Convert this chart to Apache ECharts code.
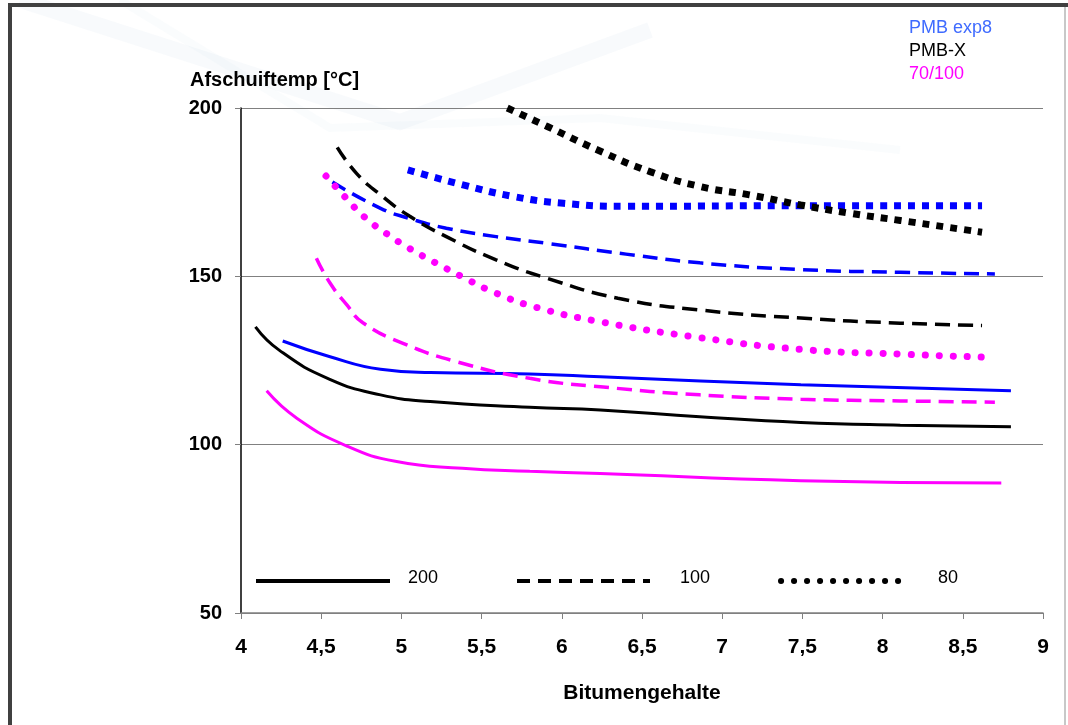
<!DOCTYPE html>
<html>
<head>
<meta charset="utf-8">
<script src="https://cdn.jsdelivr.net/npm/echarts@6/dist/echarts.min.js"></script>
<style>
  html, body { margin: 0; padding: 0; background: #fff; }
  #chart { width: 1068px; height: 725px; }
</style>
</head>
<body>
<div id="chart"></div>
<script>
// x = Bitumengehalte, y = Afschuiftemp [°C]
// 200 = solid, 100 = dashed, 80 = dotted
const pmbExp200 = [[4.26,130.8],[4.55,126.2],[4.87,122.4],[5.18,121.4],[5.8,121],[6.24,120.2],[7.49,117.8],[8.8,116]];
const pmbX200   = [[4.09,135],[4.24,128],[4.55,119.5],[4.87,114.8],[5.18,112.8],[5.8,111.1],[6.24,110.3],[6.86,108.3],[7.49,106.6],[8.11,105.8],[8.8,105.3]];
const bit200    = [[4.16,116],[4.35,107.8],[4.66,99.6],[4.97,95],[5.38,93],[5.8,92.1],[6.24,91.4],[7.49,89.3],[8.74,88.6]];

const pmbExp100 = [[4.57,178],[4.87,170.2],[5.05,167.2],[5.28,164.3],[5.59,161.8],[5.91,159.8],[6.4,156.6],[6.86,154],[7.49,152],[8.11,151.2],[8.7,150.7]];
const pmbX100   = [[4.6,188.3],[4.72,180.6],[4.87,174.2],[5.05,167.9],[5.28,161.8],[5.59,154.9],[5.91,149.4],[6.35,143.5],[6.86,140],[7.49,137.6],[8.11,136.1],[8.62,135.4]];
const bit100    = [[4.47,155.4],[4.555,148],[4.66,141.5],[4.76,136.2],[5.01,130.1],[5.34,124.7],[5.8,119.7],[6.24,117.2],[6.86,114.8],[7.49,113.5],[8.11,113],[8.7,112.6]];

const pmbExp80  = [[5.04,181.6],[5.39,177.1],[5.7,173.7],[6.01,171.7],[6.4,170.8],[7.49,171],[8.62,171]];
const pmbX80    = [[5.66,200],[5.91,194.5],[6.22,187.6],[6.55,181.1],[6.86,176.7],[7.17,174.2],[7.49,171.2],[7.8,168.7],[8.11,166.6],[8.62,163.1]];
const bit80     = [[4.53,179.8],[4.65,173.5],[4.77,167.6],[4.91,162.6],[5.05,158.3],[5.21,154.1],[5.37,150.1],[5.59,145],[5.84,140.8],[6.24,136.5],[6.86,131.8],[7.49,128.3],[8.11,126.9],[8.63,126]];

const productNames = ['PMB exp8', 'PMB-X', '70/100'];
const productColors = ['#0000ff', '#000000', '#ff00ff'];
const legendTextColors = ['#3f6bff', '#000000', '#ff00ff'];
const penLabels = ['200', '100', '80'];

const FONT = "'Liberation Sans', Arial, sans-serif";

// line style per pen
function solid(c) { return { color: c, width: 3, type: 'solid' }; }
function dashed(c) { return { color: c, width: 3.5, type: [15, 8], cap: 'butt' }; }
function squareDots(c) { return { color: c, width: 7, type: [7, 7], cap: 'butt' }; }
function roundDots(c) { return { color: c, width: 7, type: [0.1, 13.9], cap: 'round' }; }

function line(name, data, style) {
  return {
    name: name,
    type: 'line',
    data: data,
    smooth: 0.5,
    showSymbol: false,
    clip: false,
    lineStyle: style,
    emphasis: { disabled: true }
  };
}

const chart = echarts.init(document.getElementById('chart'), null, { renderer: 'canvas' });

const option = {
  backgroundColor: '#ffffff',
  animation: false,
  grid: { left: 241, right: 25, top: 108, bottom: 112 },
  xAxis: {
    type: 'value',
    min: 4, max: 9, interval: 0.5,
    name: 'Bitumengehalte',
    nameLocation: 'middle',
    nameGap: 70,
    nameTextStyle: { fontFamily: FONT, fontWeight: 'bold', fontSize: 21, color: '#000' },
    axisLine: { show: true, lineStyle: { color: '#808080', width: 1.5 } },
    axisTick: { show: true, length: 6, lineStyle: { color: '#808080' } },
    splitLine: { show: false },
    axisLabel: {
      margin: 24,
      fontFamily: FONT, fontWeight: 'bold', fontSize: 21, color: '#000',
      formatter: v => String(v).replace('.', ',')
    }
  },
  yAxis: {
    type: 'value',
    min: 50, max: 200, interval: 50,
    axisLine: { show: true, lineStyle: { color: '#000', width: 1.5 } },
    axisTick: { show: true, length: 6, lineStyle: { color: '#808080' } },
    splitLine: { show: true, lineStyle: { color: '#808080', width: 1.2 } },
    axisLabel: {
      margin: 19,
      fontFamily: FONT, fontWeight: 'bold', fontSize: 20, color: '#000'
    }
  },
  series: [
    line('PMB exp8 200', pmbExp200, solid(productColors[0])),
    line('PMB-X 200', pmbX200, solid(productColors[1])),
    line('70/100 200', bit200, solid(productColors[2])),
    line('PMB exp8 100', pmbExp100, dashed(productColors[0])),
    line('PMB-X 100', pmbX100, dashed(productColors[1])),
    line('70/100 100', bit100, dashed(productColors[2])),
    line('PMB exp8 80', pmbExp80, squareDots(productColors[0])),
    line('PMB-X 80', pmbX80, squareDots(productColors[1])),
    line('70/100 80', bit80, roundDots(productColors[2]))
  ],
  graphic: [
    // faint watermark in the background
    {
      type: 'polyline', z: -10, silent: true,
      shape: { points: [[20, 0], [400, 122], [650, 30]] },
      style: { stroke: 'rgba(205,222,234,0.14)', lineWidth: 16, fill: null }
    },
    {
      type: 'polyline', z: -10, silent: true,
      shape: { points: [[120, 0], [330, 128], [600, 118], [900, 150]] },
      style: { stroke: 'rgba(205,222,234,0.1)', lineWidth: 8, fill: null }
    },
    // frame
    { type: 'rect', silent: true, shape: { x: 8, y: 3, width: 1060, height: 4 }, style: { fill: '#404040' } },
    { type: 'rect', silent: true, shape: { x: 8, y: 3, width: 4, height: 722 }, style: { fill: '#404040' } },
    { type: 'rect', silent: true, shape: { x: 1064, y: 7, width: 2, height: 718 }, style: { fill: '#c8c8c8' } },
    // axis title
    {
      type: 'text', left: 190, top: 70,
      style: { text: 'Afschuiftemp [°C]', fontFamily: FONT, fontWeight: 'bold', fontSize: 20, fill: '#000' }
    },
    // product legend top right
    ...productNames.map((n, i) => ({
      type: 'text', left: 909, top: 19 + i * 23,
      style: { text: n, fontFamily: FONT, fontSize: 18, fill: legendTextColors[i] }
    })),
    // pen legend at bottom of plot
    {
      type: 'line', shape: { x1: 256, y1: 581, x2: 390, y2: 581 },
      style: { stroke: '#000', lineWidth: 4 }
    },
    {
      type: 'line', shape: { x1: 517, y1: 581, x2: 650, y2: 581 },
      style: { stroke: '#000', lineWidth: 4, lineDash: [13, 8] }
    },
    {
      type: 'line', shape: { x1: 781, y1: 581, x2: 908, y2: 581 },
      style: { stroke: '#000', lineWidth: 6, lineDash: [0.1, 12.9], lineCap: 'round' }
    },
    ...penLabels.map((t, i) => ({
      type: 'text', left: [408, 680, 938][i], top: 569,
      style: { text: t, fontFamily: FONT, fontSize: 18, fill: '#000' }
    }))
  ]
};

chart.setOption(option);
</script>
</body>
</html>
